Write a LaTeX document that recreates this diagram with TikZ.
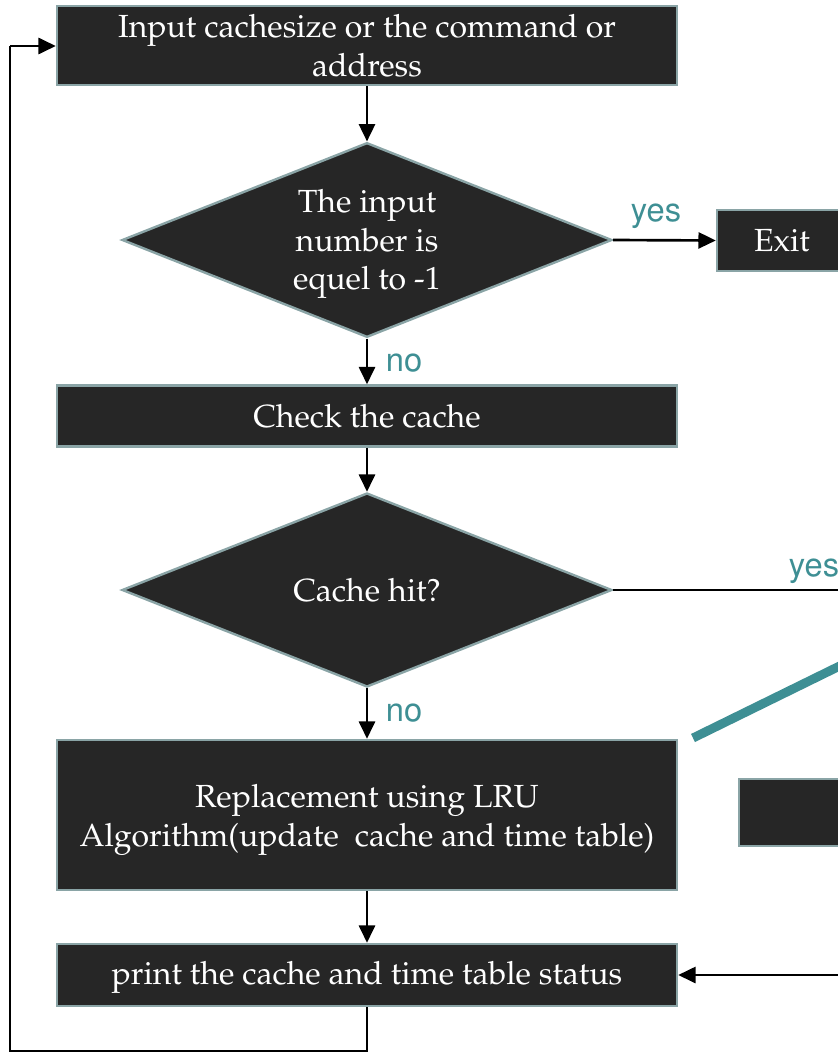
\documentclass[tikz,border=0pt]{standalone}
\usepackage[T1]{fontenc}
\renewcommand{\rmdefault}{ppl}
\usetikzlibrary{shapes.geometric,arrows.meta}
\definecolor{boxc}{HTML}{262626}
\definecolor{bordc}{HTML}{8AA4A6}
\definecolor{tealc}{HTML}{3E8F94}
\newcommand{\labfont}{\fontfamily{phv}\selectfont\fontsize{24.5}{26}\selectfont}
\newcommand{\boxfont}{\rmfamily\fontsize{24}{29}\selectfont}
\tikzset{
  stepbox/.style={draw=bordc, line width=1.8pt, fill=boxc, text=white, font=\boxfont,
    align=center, inner sep=0pt, minimum width=465pt},
  decbox/.style={diamond, draw=bordc, line width=1.8pt, fill=boxc, text=white, font=\boxfont,
    align=center, inner sep=0pt, aspect=2.5, minimum width=367.5pt, minimum height=146pt},
  boxtext/.style={text=white, font=\boxfont, align=center, inner sep=0pt},
  conn/.style={line width=2pt, -{Triangle[length=13pt,width=12pt]}},
  plain/.style={line width=2pt},
  lab/.style={text=tealc, font=\labfont, inner sep=0pt}
}
\begin{document}
\begin{tikzpicture}[x=0.75pt,y=-0.75pt]
\useasboundingbox (0,0) rectangle (838,1053);
\clip (0,0) rectangle (838,1053);
\node[stepbox, minimum height=59.25pt] (in) at (367,45.5) {Input cachesize or the command or\\address};
\node[decbox] (d1) at (367,240) {};
\node[boxtext] (d1t) at (367,244) {The input\\number is\\equel to -1};
\node[stepbox, minimum width=97.5pt, minimum height=45.75pt] (exit) at (782,240.5) {Exit};
\node[stepbox, minimum height=45.75pt] (chk) at (367,416) {Check the cache};
\node[decbox, minimum height=145.5pt] (d2) at (367,590) {Cache hit?};
\node[stepbox, minimum height=112.5pt] (rep) at (367,815) {};
\node[boxtext] (rept) at (367,820) {Replacement using LRU\\Algorithm(update~ cache and time table)};
\node[stepbox, minimum height=46.5pt] (prt) at (367,975) {};
\node[boxtext] (prtt) at (367,977) {print the cache and time table status};
\node[stepbox, minimum width=99pt, minimum height=50pt] (dk) at (805,812.5) {};
\coordinate (hitR) at (850,590);
\coordinate (prR) at (850,975);
\coordinate (loopB) at (367,1051);
\coordinate (loopL) at (10,1051);
\coordinate (loopT) at (10,46);
\coordinate (t1) at (693,738);
\coordinate (t2) at (860,656);
\draw[conn] (in.south) -- (d1.north);
\draw[conn] (d1.east) -- (exit.west);
\draw[conn] (d1.south) -- (chk.north);
\draw[conn] (chk.south) -- (d2.north);
\draw[plain] (d2.east) -- (hitR);
\draw[conn] (d2.south) -- (rep.north);
\draw[conn] (rep.south) -- (prt.north);
\draw[conn] (prR) -- (prt.east);
\draw[plain] (prt.south) -- (loopB) -- (loopL) -- (loopT);
\draw[conn] (loopT) -- (in.west |- loopT);
\draw[tealc, line width=6.75pt] (t1) -- (t2);
\node[lab] (y1) at (656,216) {yes};
\node[lab] (y2) at (814,571) {yes};
\node[lab] (n1) at (404,363) {no};
\node[lab] (n2) at (404,713) {no};
\end{tikzpicture}
\end{document}
